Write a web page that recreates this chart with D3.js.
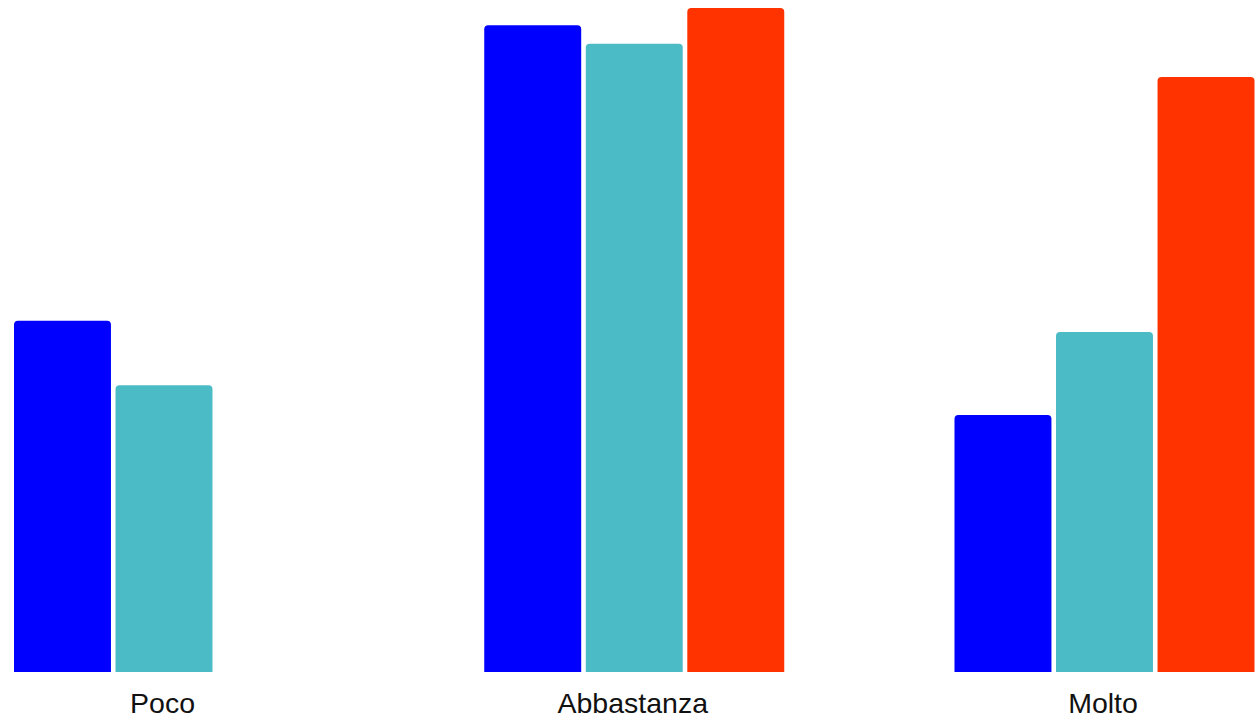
<!DOCTYPE html>
<html>
<head>
<meta charset="utf-8">
<script src="https://cdn.jsdelivr.net/npm/d3@7"></script>
<style>
  html, body { margin: 0; padding: 0; background: #ffffff; }
  svg { display: block; }
</style>
</head>
<body>
<svg id="chart" width="1255" height="721"></svg>
<script>
const categories = ["Poco", "Abbastanza", "Molto"];
const seriesNames = ["Serie 1", "Serie 2", "Serie 3"];
const seriesColors = ["#0000ff", "#4bbbc5", "#ff3300"];
const serie1 = [52.9, 97.4, 38.7];
const serie2 = [43.2, 94.6, 51.2];
const serie3 = [0, 100, 89.6];

const seriesValues = [serie1, serie2, serie3];
const data = categories.map((c, i) => ({
  category: c,
  values: seriesNames.map((s, j) => ({ series: s, idx: j, value: seriesValues[j][i] }))
}));

const W = 1255, H = 721;
const baseline = 672;
const svg = d3.select("#chart");

const x0 = d3.scaleBand().domain(categories).range([14, 1254.5]).paddingInner(0.362).paddingOuter(0);
const x1 = d3.scaleBand().domain(seriesNames).range([0, x0.bandwidth()]).paddingInner(0.045).paddingOuter(0);
const y = d3.scaleLinear().domain([0, 100]).range([baseline, 8]);

function topRounded(x, yTop, w, h, r) {
  if (h <= 0) return "";
  r = Math.min(r, h, w / 2);
  return `M${x},${yTop + h}V${yTop + r}Q${x},${yTop} ${x + r},${yTop}H${x + w - r}Q${x + w},${yTop} ${x + w},${yTop + r}V${yTop + h}Z`;
}

const groups = svg.selectAll("g.group").data(data).join("g")
  .attr("class", "group")
  .attr("transform", d => `translate(${x0(d.category)},0)`);

groups.selectAll("path").data(d => d.values.filter(v => v.value > 0)).join("path")
  .attr("d", v => topRounded(x1(v.series), y(v.value), x1.bandwidth(), baseline - y(v.value), 4))
  .attr("fill", v => seriesColors[v.idx]);

const xAxis = d3.axisBottom(x0).tickSize(0).tickPadding(0);
const axisG = svg.append("g").attr("transform", `translate(0,${baseline})`).call(xAxis);
axisG.select(".domain").remove();
axisG.selectAll("text")
  .attr("x", -1.5)
  .attr("y", 41)
  .attr("dy", 0)
  .attr("fill", "#111")
  .style("font-family", "'Liberation Sans', Arial, sans-serif")
  .style("font-size", "28.5px");
</script>
</body>
</html>
